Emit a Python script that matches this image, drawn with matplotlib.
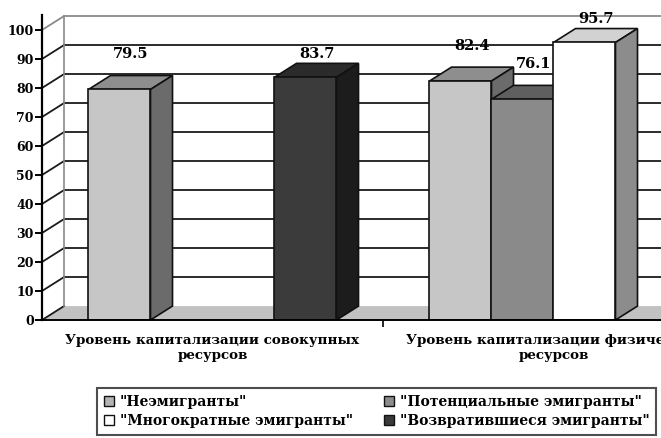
import numpy as np
import matplotlib
matplotlib.use('Agg')
import matplotlib.pyplot as plt
from matplotlib.patches import Polygon, Patch

# === data ===
categories = ['Уровень капитализации совокупных\nресурсов',
              'Уровень капитализации физических\nресурсов']
series = ['"Неэмигранты"', '"Потенциальные эмигранты"',
          '"Многократные эмигранты"', '"Возвратившиеся эмигранты"']
values = [
    [79.5, 82.4],          # Неэмигранты
    [np.nan, 76.1],        # Потенциальные
    [np.nan, 95.7],        # Многократные
    [83.7, np.nan],        # Возвратившиеся
]
yticks = [0, 10, 20, 30, 40, 50, 60, 70, 80, 90, 100]

# === styles ===
front_c = ['#c6c6c6', '#8a8a8a', '#ffffff', '#3b3b3b']
top_c = ['#8e8e8e', '#5f5f5f', '#d2d2d2', '#2b2b2b']
side_c = ['#6b6b6b', '#4d4d4d', '#8c8c8c', '#1c1c1c']
legend_c = ['#b4b4b4', '#8c8c8c', '#ffffff', '#3a3a3a']
label_pad = [10.8, 10.8, 6.8, 6.8]   # excel put the labels at two heights

font = dict(family='DejaVu Serif', weight='bold')
dx, dy = 0.355, 4.8     # depth of the 3d effect, in data units
bw = 1.0                # bar width
gw = 4 + 1.5            # group width (4 bars + gap)
x0 = -gw / 2

fig = plt.figure(figsize=(6.61, 4.38), dpi=100)
ax = fig.add_axes([42 / 661, 118 / 438, 619 / 661, 105 * 2.9 / 438])
ax.set_xlim(x0, x0 + 619 / 62)
ax.set_ylim(0, 105)
xr = ax.get_xlim()[1] + 1

# floor
ax.add_patch(Polygon([(x0, 0), (xr, 0), (xr + dx, dy), (x0 + dx, dy)],
                     closed=True, fc='#c2c2c2', ec='none', zorder=1))
# back wall grid + oblique ticks
for v in yticks:
    col = '#8a8a8a' if v == 100 else '#1a1a1a'
    ax.plot([x0, x0 + dx], [v, v + dy], color=col, lw=1.3, zorder=2, clip_on=False)
    if v > 0:
        ax.plot([x0 + dx, xr], [v + dy, v + dy], color=col, lw=1.3, zorder=2, clip_on=False)
ax.plot([x0 + dx, x0 + dx], [dy, 100 + dy], color='#8a8a8a', lw=1.2, zorder=2, clip_on=False)

# bars
centers = np.arange(len(categories)) * gw
z = 3
for gi, c in enumerate(centers):
    for si in range(len(series)):
        h = values[si][gi]
        if np.isnan(h):
            continue
        left = c - 2 * bw + si * bw
        right = left + bw
        ax.bar(left, h, width=bw, align='edge', color=front_c[si],
               edgecolor='#111111', linewidth=1.2, zorder=z + 0.2)
        ax.add_patch(Polygon([(left, h), (right, h), (right + dx, h + dy), (left + dx, h + dy)],
                             closed=True, fc=top_c[si], ec='#111111', lw=1.2, zorder=z))
        ax.add_patch(Polygon([(right, 0), (right + dx, dy), (right + dx, h + dy), (right, h)],
                             closed=True, fc=side_c[si], ec='#111111', lw=1.2, zorder=z))
        ax.text(left + bw / 2 + dx / 2, h + label_pad[si], f'{h:.1f}',
                ha='center', va='baseline', fontsize=10.5, zorder=20, **font)
        z += 1

# axes
for s in ['top', 'right']:
    ax.spines[s].set_visible(False)
ax.spines['left'].set_linewidth(1.6)
ax.spines['bottom'].set_linewidth(1.4)
ax.spines['left'].set_zorder(30)
ax.spines['bottom'].set_zorder(30)
ax.set_yticks(yticks)
ax.set_yticklabels([str(v) for v in yticks], **font, fontsize=9)
ax.tick_params(axis='y', length=5, width=1.4, pad=1)
ax.set_xticks(centers)
ax.set_xticklabels(categories, **font, fontsize=9.7, linespacing=1.25)
ax.tick_params(axis='x', length=0, pad=10)
ax.set_xticks(centers[:-1] + gw / 2, minor=True)
ax.tick_params(axis='x', which='minor', length=5, width=1.2)

handles = [Patch(fc=legend_c[i], ec='#111111', lw=1.0, label=series[i]) for i in range(4)]
order = [0, 2, 1, 3]
leg_top = 1 - 388 / 438
leg = fig.legend([handles[i] for i in order], [series[i] for i in order],
                 ncol=2, loc='upper left', bbox_to_anchor=(97 / 661, leg_top),
                 frameon=True, fancybox=False, edgecolor='#222222',
                 prop=dict(family='DejaVu Serif', weight='bold', size=10),
                 handlelength=0.75, handleheight=0.75, handletextpad=0.4,
                 columnspacing=2.2, borderpad=0.5, labelspacing=0.35, borderaxespad=0)
leg.get_frame().set_linewidth(1.5)

fig.savefig('out.png', dpi=100)
